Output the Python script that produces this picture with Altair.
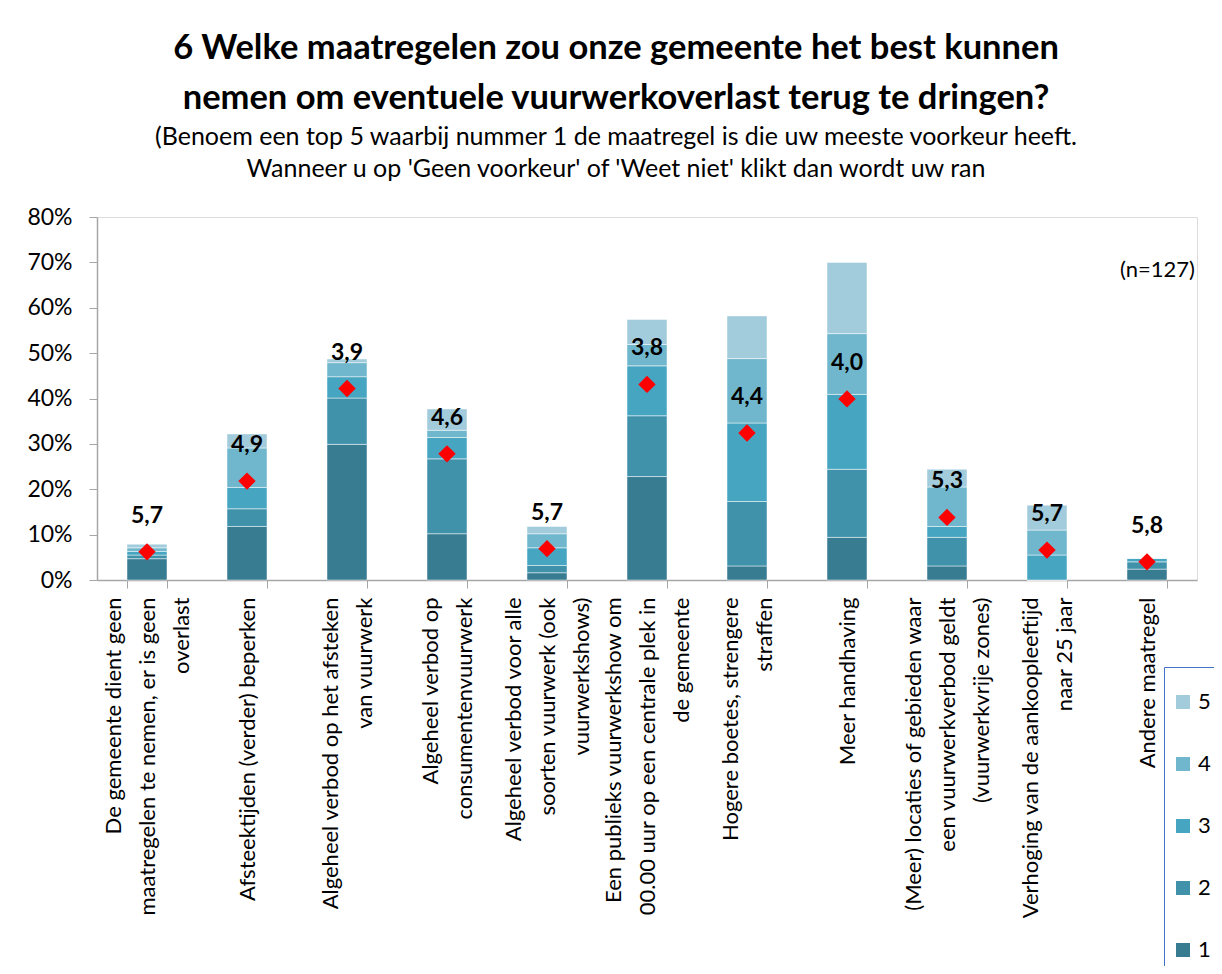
import altair as alt
import pandas as pd

categories = [
    "De gemeente dient geen|maatregelen te nemen, er is geen|overlast",
    "Afsteektijden (verder) beperken",
    "Algeheel verbod op het afsteken|van vuurwerk",
    "Algeheel verbod op|consumentenvuurwerk",
    "Algeheel verbod voor alle|soorten vuurwerk (ook|vuurwerkshows)",
    "Een publieks vuurwerkshow om|00.00 uur op een centrale plek in|de gemeente",
    "Hogere boetes, strengere|straffen",
    "Meer handhaving",
    "(Meer) locaties of gebieden waar|een vuurwerkverbod geldt|(vuurwerkvrije zones)",
    "Verhoging van de aankoopleeftijd|naar 25 jaar",
    "Andere maatregel",
]
ranks = ["1", "2", "3", "4", "5"]
rank1 = [4.7, 11.8, 29.9, 10.2, 1.6, 22.8, 3.1, 9.4, 3.1, 0.0, 2.4]
rank2 = [0.8, 3.9, 10.2, 16.5, 1.6, 13.4, 14.2, 15.0, 6.3, 0.0, 1.6]
rank3 = [0.8, 4.7, 4.7, 4.7, 3.9, 11.0, 17.3, 16.5, 2.4, 5.5, 0.8]
rank4 = [0.8, 8.7, 3.1, 1.6, 3.1, 4.7, 14.2, 13.4, 8.7, 5.5, 0.0]
rank5 = [0.8, 3.1, 0.8, 4.7, 1.6, 5.5, 9.4, 15.7, 3.9, 5.5, 0.0]
marker = [6.2, 21.8, 42.2, 27.8, 6.9, 43.1, 32.4, 39.9, 13.8, 6.6, 4.0]
avg_rank = ["5,7", "4,9", "3,9", "4,6", "5,7", "3,8", "4,4", "4,0", "5,3", "5,7", "5,8"]
colors = ["#377C91", "#4092AA", "#46A5C0", "#70B7CD", "#A2CBDC"]

rows = []
for series, rk in zip([rank1, rank2, rank3, rank4, rank5], ranks):
    for cat, v in zip(categories, series):
        rows.append({"cat": cat, "rank": rk, "order": int(rk), "value": v / 100})
bars_df = pd.DataFrame(rows)
pts_df = pd.DataFrame({"cat": categories, "marker": [m / 100 for m in marker], "label": avg_rank})

FONT = "Lato"
LINE_H = 34

x_enc = alt.X(
    "cat:N",
    sort=categories,
    title=None,
    scale=alt.Scale(paddingInner=0.6, paddingOuter=0.3),
    axis=alt.Axis(
        labelAngle=-90,
        labelAlign="right",
        labelBaseline="middle",
        labelExpr="split(datum.label, '|')",
        labelOffset={
            "condition": [
                {"test": "length(split(datum.value, '|')) == 3", "value": -LINE_H},
                {"test": "length(split(datum.value, '|')) == 2", "value": -LINE_H / 2},
            ],
            "value": 0,
        },
        labelLimit=0,
        labelOverlap=False,
        labelFont=FONT,
        labelFontSize=22,
        labelLineHeight=LINE_H,
        labelColor="#000000",
        labelPadding=9,
        tickBand="extent",
        tickSize=8,
        tickColor="#A6A6A6",
        domainColor="#A6A6A6",
        domainWidth=1.5,
        grid=False,
    ),
)

y_scale = alt.Scale(domain=[0, 0.8], nice=False)
y_axis = alt.Axis(
    format=".0%",
    values=[0, 0.1, 0.2, 0.3, 0.4, 0.5, 0.6, 0.7, 0.8],
    labelFont=FONT,
    labelFontSize=23,
    labelColor="#000000",
    labelPadding=17,
    tickSize=8,
    tickColor="#A6A6A6",
    domainColor="#A6A6A6",
    domainWidth=1.5,
    grid=False,
    title=None,
)

bars = alt.Chart(bars_df).mark_bar(stroke="#FFFFFF", strokeWidth=0.8, strokeOpacity=0.6).encode(
    x=x_enc,
    y=alt.Y("value:Q", stack="zero", scale=y_scale, axis=y_axis),
    color=alt.Color(
        "rank:N",
        scale=alt.Scale(domain=["5", "4", "3", "2", "1"], range=colors[::-1]),
        legend=alt.Legend(
            title=" ",
            titleFontSize=2,
            titlePadding=14,
            orient="none",
            legendX=1067,
            legendY=450,
            symbolType="square",
            symbolSize=196,
            symbolStrokeWidth=0,
            labelFont=FONT,
            labelFontSize=22,
            labelColor="#000000",
            labelOffset=4,
            rowPadding=40,
            padding=8,
            strokeColor="#4472C4",
            fillColor="#FFFFFF",
        ),
    ),
    order=alt.Order("order:Q", sort="ascending"),
)

points = alt.Chart(pts_df).mark_point(
    shape="diamond", filled=True, color="#FF0000", size=300, opacity=1
).encode(
    x=alt.X("cat:N", sort=categories),
    y=alt.Y("marker:Q", scale=y_scale),
)

labels = alt.Chart(pts_df).mark_text(
    font=FONT, fontSize=23, fontWeight="bold", color="#000000", dy=-36
).encode(
    x=alt.X("cat:N", sort=categories),
    y=alt.Y("marker:Q", scale=y_scale),
    text="label:N",
)

n_text = alt.Chart(pd.DataFrame({"t": ["(n=127)"]})).mark_text(
    font=FONT, fontSize=22, color="#000000", align="right", baseline="middle"
).encode(x=alt.value(1098), y=alt.value(53), text="t:N")

chart = alt.layer(bars, points, labels, n_text).properties(
    width=1100,
    height=363,
    padding={"left": 89, "top": 209, "right": 17, "bottom": 386},
    autosize=alt.AutoSizeParams(type="none"),
    title=alt.TitleParams(
        text=["6 Welke maatregelen zou onze gemeente het best kunnen",
              "nemen om eventuele vuurwerkoverlast terug te dringen?"],
        subtitle=["(Benoem een top 5 waarbij nummer 1 de maatregel is die uw meeste voorkeur heeft.",
                  "Wanneer u op 'Geen voorkeur' of 'Weet niet' klikt dan wordt uw ran"],
        font=FONT,
        fontSize=34.5,
        fontWeight="bold",
        color="#000000",
        lineHeight=50,
        subtitleFont=FONT,
        subtitleFontSize=25,
        subtitleColor="#000000",
        subtitleLineHeight=32,
        subtitlePadding=9,
        anchor="middle",
        dx=-31,
        offset=23,
    ),
).configure_view(stroke=None).configure(background="#FFFFFF")

chart.save("out.html", embed_options={"renderer": "svg", "actions": False})
